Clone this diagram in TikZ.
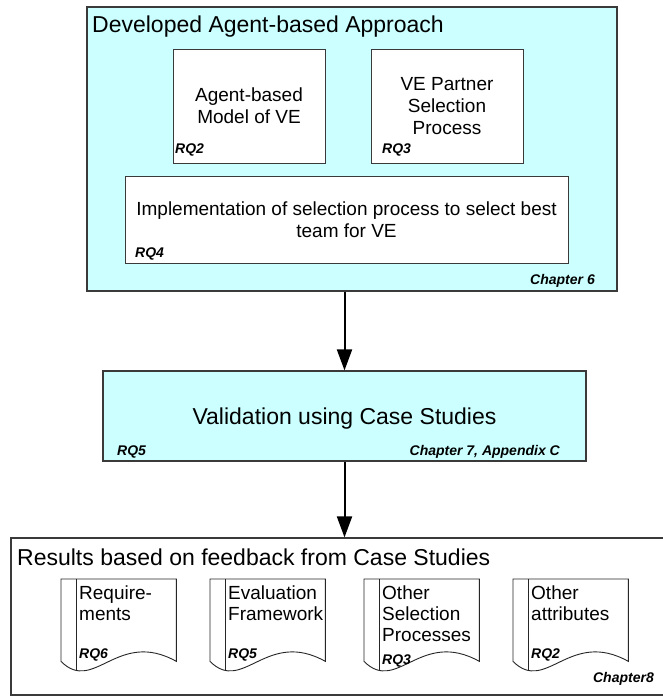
\documentclass[tikz,border=0pt]{standalone}
\usepackage{fontspec}
\setmainfont{Liberation Sans}
\usetikzlibrary{arrows.meta,calc}

\definecolor{panelcyan}{HTML}{CCFFFF}
\definecolor{edgegray}{HTML}{3A3A3A}

\tikzset{
  panel/.style={rectangle, draw=edgegray, line width=1.2pt, fill=panelcyan, inner sep=0pt},
  card/.style={rectangle, draw=edgegray, line width=1pt, fill=white, inner sep=0pt,
    align=center, font=\fontsize{19}{22}\selectfont},
  heading/.style={font=\fontsize{23}{27}\selectfont, inner sep=0pt, anchor=base west},
  tag/.style={font=\fontsize{14}{16}\selectfont\bfseries\itshape, inner sep=0pt},
  docframe/.style={rectangle, inner sep=0pt, minimum width=115pt, minimum height=82pt, anchor=north west},
  doctext/.style={font=\fontsize{19}{21}\selectfont, align=left, inner sep=0pt, anchor=north west},
  docline/.style={draw=black!85, line width=0.9pt},
  flow/.style={line width=2pt, -{Triangle[length=21pt,width=15pt]}}
}

% document symbol: straight top and sides, wavy bottom edge, binding strip on the left
\newcommand\drawdoc[1]{%
  \draw[docline, fill=white] (#1.north west) -- (#1.north east) -- (#1.south east)
    .. controls ($(#1.south east)+(-59,-33)$) and ($(#1.south west)+(33,33)$) .. (#1.south west) -- cycle;
  \begin{scope}
    \clip (#1.north west) -- (#1.north east) -- (#1.south east)
      .. controls ($(#1.south east)+(-59,-33)$) and ($(#1.south west)+(33,33)$) .. (#1.south west) -- cycle;
    \draw[docline] ($(#1.north west)+(15,0)$) -- ($(#1.south west)+(15,20)$);
  \end{scope}}

\begin{document}
\begin{tikzpicture}[x=1pt, y=-1pt]
\useasboundingbox (0,0) rectangle (662,696);

% ---- developed approach ----
\node[panel, minimum width=530pt, minimum height=284pt] (approach) at (352,149) {};
\node[heading] (approachT) at (92,32) {Developed Agent-based Approach};

\node[card, minimum width=152pt, minimum height=114pt] (abm) at (249,106) {Agent-based\\Model of VE};
\node[tag, anchor=base west] (abmRQ) at (175,153) {RQ2};

\node[card, minimum width=152pt, minimum height=114pt] (vep) at (447,106) {VE Partner\\Selection\\Process};
\node[tag, anchor=base west] (vepRQ) at (382,153) {RQ3};

\node[card, minimum width=443pt, minimum height=87pt] (impl) at (346.5,219.5)
  {Implementation of selection process to select best\\team for VE};
\node[tag, anchor=base west] (implRQ) at (135,257) {RQ4};

\node[tag, anchor=base east] (ch6) at (595,284) {Chapter 6};

% ---- validation ----
\node[panel, minimum width=483pt, minimum height=90pt, text height=17pt, text depth=1pt,
      font=\fontsize{23}{27}\selectfont] (valid) at (344.5,416) {Validation using Case Studies};
\node[tag, anchor=base west] (validRQ) at (117,455) {RQ5};
\node[tag, anchor=base east] (ch7) at (560,455) {Chapter 7, Appendix C};

% ---- results ----
\node[rectangle, draw=edgegray, line width=1.2pt, fill=white, inner sep=0pt,
      minimum width=659pt, minimum height=157pt] (results) at (340.5,616.5) {};
\node[heading] (resultsT) at (17,565) {Results based on feedback from Case Studies};

\node[docframe] (d1) at (61,579) {};
\node[docframe] (d2) at (210,579) {};
\node[docframe] (d3) at (364,579) {};
\node[docframe] (d4) at (513,579) {};
\drawdoc{d1}
\drawdoc{d2}
\drawdoc{d3}
\drawdoc{d4}

\node[doctext] (d1t) at ($(d1.north west)+(18,7)$) {Require-\\ments};
\node[doctext] (d2t) at ($(d2.north west)+(18,7)$) {Evaluation\\Framework};
\node[doctext] (d3t) at ($(d3.north west)+(18,7)$) {Other\\Selection\\Processes};
\node[doctext] (d4t) at ($(d4.north west)+(18,7)$) {Other\\attributes};

\node[tag, anchor=base west] (d1RQ) at ($(d1.north west)+(18,79)$) {RQ6};
\node[tag, anchor=base west] (d2RQ) at ($(d2.north west)+(18,79)$) {RQ5};
\node[tag, anchor=base west] (d3RQ) at ($(d3.north west)+(18,85)$) {RQ3};
\node[tag, anchor=base west] (d4RQ) at ($(d4.north west)+(18,79)$) {RQ2};

\node[tag, anchor=base east] (ch8) at (654,682) {Chapter8};

% ---- flow ----
\draw[flow] (approach.south -| valid.north) -- (valid.north);
\draw[flow] (valid.south) -- (valid.south |- results.north);
\end{tikzpicture}
\end{document}
